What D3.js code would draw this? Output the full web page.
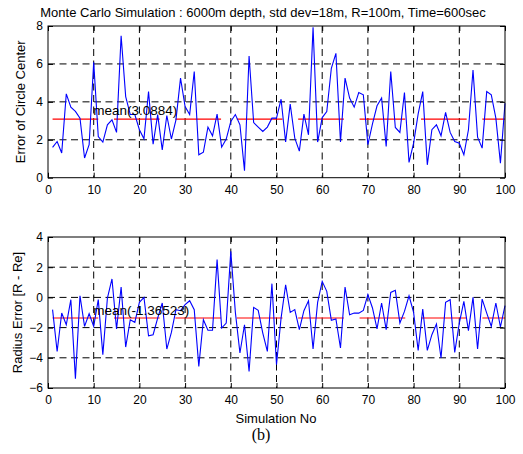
<!DOCTYPE html>
<html>
<head>
<meta charset="utf-8">
<script src="https://cdn.jsdelivr.net/npm/d3@7"></script>
<style>
  body { margin: 0; background: #fff; }
  svg text { font-family: Arial, "Liberation Sans", sans-serif; }
</style>
</head>
<body>
<div id="chart"></div>
<script>
// simulation numbers 1..100
const simNo = d3.range(1, 101);

const centerError = [
  1.60, 1.91, 1.30, 4.42, 3.72, 3.50, 3.14, 1.04, 1.74, 6.09,
  2.17, 1.88, 2.79, 3.05, 2.39, 7.49, 4.28, 3.33, 3.33, 2.53,
  2.05, 4.54, 1.77, 3.33, 1.47, 3.28, 2.04, 3.05, 5.25, 3.75,
  3.33, 5.60, 1.21, 1.35, 2.67, 2.21, 3.35, 1.61, 2.04, 2.96,
  3.33, 2.79, 0.37, 6.42, 2.91, 2.67, 2.44, 2.67, 3.14, 3.14,
  4.14, 1.88, 3.88, 2.09, 1.40, 3.35, 2.26, 7.93, 1.88, 3.17,
  3.49, 5.77, 6.56, 1.88, 5.25, 4.20, 3.72, 4.49, 4.37, 1.74,
  2.84, 3.79, 4.20, 1.65, 5.60, 2.65, 2.39, 4.49, 0.81, 1.82,
  3.37, 4.54, 0.68, 2.53, 2.79, 2.21, 3.44, 2.39, 1.91, 1.82,
  1.21, 2.53, 5.68, 2.14, 1.56, 4.54, 4.37, 3.14, 0.77, 3.93
];

const radiusError = [
  -0.81, -3.58, -1.03, -1.81, -0.15, -5.38, 0.11, -1.92, -1.08, -1.92,
  -0.15, -3.79, -0.04, 1.22, -2.09, 0.69, -3.29, -1.48, -1.65, -0.33,
  0.00, -2.54, -2.47, -1.37, -0.37, -3.42, -2.32, -0.81, -0.88, -0.48,
  -0.22, -0.81, -4.57, -1.48, -2.18, -2.18, 2.50, -2.03, -1.70, 3.05,
  -0.99, -3.68, -1.81, -4.90, -0.66, -0.86, -2.36, -3.58, 0.91, -4.45,
  -1.37, 0.84, -0.99, -0.81, -2.14, -0.88, -0.22, -3.42, -0.33, 1.06,
  0.40, -1.52, -1.43, -3.35, 0.69, -1.15, -1.04, -1.04, -0.86, 0.18,
  -0.70, -2.09, -0.37, -2.14, 0.33, 0.47, -1.70, -0.93, 0.11, -0.99,
  -3.51, -0.77, -3.51, -2.47, -1.76, -4.01, -0.33, -0.15, -3.64, -1.70,
  -0.26, -2.20, 0.00, -3.42, -0.11, -1.04, -1.92, -0.37, -1.96, -0.55
];

const centerMean = 3.0884;
const radiusMean = -1.36523;

const xTicks = [0, 10, 20, 30, 40, 50, 60, 70, 80, 90, 100];
const topYTicks = [0, 2, 4, 6, 8];
const bottomYTicks = [-6, -4, -2, 0, 2, 4];

const W = 523, H = 454;
const left = 48, right = 505;

const svg = d3.select('#chart').append('svg')
  .attr('width', W)
  .attr('height', H);

const x = d3.scaleLinear().domain([0, 100]).range([left, right]);

function drawPanel(opts) {
  const y = d3.scaleLinear().domain(opts.yDomain).range([opts.bottom, opts.top]);
  const g = svg.append('g');
  const ph = opts.bottom - opts.top;

  // dashed grid
  g.selectAll('.vgrid')
    .data(xTicks.slice(1, -1))
    .enter().append('line')
    .attr('x1', d => x(d)).attr('x2', d => x(d))
    .attr('y1', opts.top).attr('y2', opts.bottom)
    .attr('stroke', '#000').attr('stroke-width', 1)
    .attr('stroke-dasharray', '7,4.5');

  g.selectAll('.hgrid')
    .data(opts.yTicks.slice(1, -1))
    .enter().append('line')
    .attr('x1', left).attr('x2', right)
    .attr('y1', d => y(d)).attr('y2', d => y(d))
    .attr('stroke', '#000').attr('stroke-width', 1)
    .attr('stroke-dasharray', '7,4.5');

  // mean line (long red dashes)
  g.append('line')
    .attr('x1', x(1)).attr('x2', x(100))
    .attr('y1', y(opts.mean)).attr('y2', y(opts.mean))
    .attr('stroke', '#ff0000').attr('stroke-width', 1.2)
    .attr('stroke-dasharray', '45.7,15.7');

  // series
  const line = d3.line()
    .x((d, i) => x(simNo[i]))
    .y(d => y(d));

  g.append('path')
    .datum(opts.values)
    .attr('d', line)
    .attr('fill', 'none')
    .attr('stroke', '#0000ff')
    .attr('stroke-width', 1.1);

  g.append('text')
    .attr('x', x(9.9))
    .attr('y', y(opts.labelY))
    .style('font-size', '13.5px')
    .attr('fill', '#000')
    .text('mean(' + opts.mean + ')');

  // axes with inward ticks
  g.append('g')
    .attr('transform', `translate(0,${opts.bottom})`)
    .call(d3.axisBottom(x).tickValues(xTicks).tickSize(-5).tickPadding(7.5).tickFormat(d3.format('d')));
  g.append('g')
    .attr('transform', `translate(0,${opts.top})`)
    .call(d3.axisTop(x).tickValues(xTicks).tickSize(-5).tickFormat(''));
  g.append('g')
    .attr('transform', `translate(${left},0)`)
    .call(d3.axisLeft(y).tickValues(opts.yTicks).tickSize(-5).tickPadding(5).tickFormat(d3.format('d')));
  g.append('g')
    .attr('transform', `translate(${right},0)`)
    .call(d3.axisRight(y).tickValues(opts.yTicks).tickSize(-5).tickFormat(''));

  g.selectAll('.domain').remove();
  g.selectAll('.tick line').attr('stroke', '#000');
  g.selectAll('.tick text').style('font-size', '12px').attr('fill', '#000');

  g.append('rect')
    .attr('x', left).attr('y', opts.top)
    .attr('width', right - left).attr('height', ph)
    .attr('fill', 'none').attr('stroke', '#000').attr('stroke-width', 1);

  g.append('text')
    .attr('transform', `translate(${opts.labelX},${(opts.top + opts.bottom) / 2}) rotate(-90)`)
    .attr('text-anchor', 'middle')
    .style('font-size', '13px')
    .attr('fill', '#000')
    .text(opts.yLabel);
}

drawPanel({
  top: 26, bottom: 177.7,
  yDomain: [0, 8], yTicks: topYTicks,
  values: centerError, mean: centerMean, labelY: 3.32,
  yLabel: 'Error of Circle Center', labelX: 24.5
});

drawPanel({
  top: 237, bottom: 388,
  yDomain: [-6, 4], yTicks: bottomYTicks,
  values: radiusError, mean: radiusMean, labelY: -1.15,
  yLabel: 'Radius Error [R - Re]', labelX: 21.5
});

svg.append('text')
  .attr('x', 263)
  .attr('y', 17)
  .attr('text-anchor', 'middle')
  .style('font-size', '13px')
  .attr('fill', '#000')
  .text('Monte Carlo Simulation : 6000m depth, std dev=18m, R=100m, Time=600sec');

svg.append('text')
  .attr('x', 276)
  .attr('y', 423)
  .attr('text-anchor', 'middle')
  .style('font-size', '13px')
  .attr('fill', '#000')
  .text('Simulation No');

svg.append('text')
  .attr('x', 261)
  .attr('y', 440)
  .attr('text-anchor', 'middle')
  .style('font-family', '"Times New Roman", "Liberation Serif", serif')
  .style('font-size', '16px')
  .attr('fill', '#000')
  .text('(b)');
</script>
</body>
</html>
